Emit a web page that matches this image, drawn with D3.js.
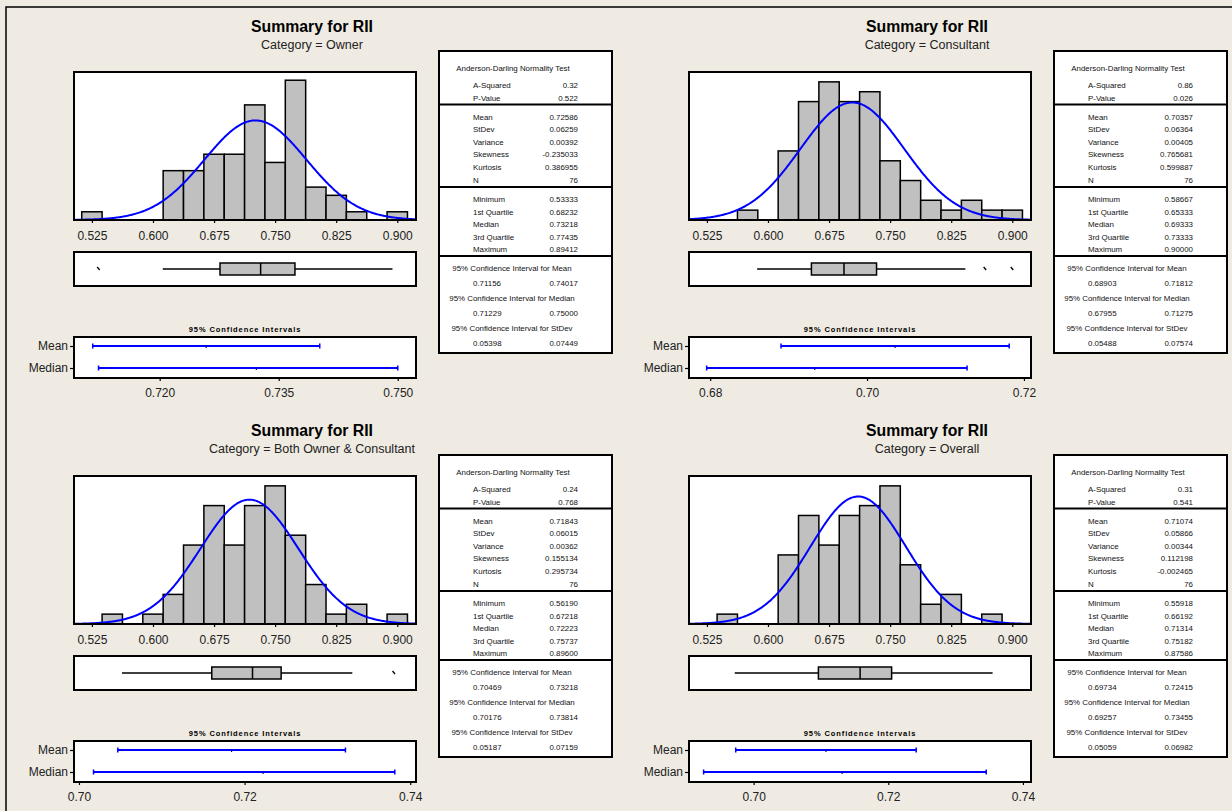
<!DOCTYPE html>
<html>
<head>
<meta charset="utf-8">
<script src="https://cdn.jsdelivr.net/npm/d3@7"></script>
<style>
  body { margin: 0; background: #efebe2; }
  svg { display: block; font-family: "Liberation Sans", Arial, sans-serif; }
</style>
</head>
<body>
<svg id="chart" width="1232" height="811"></svg>
<script>
const categories = ['Owner', 'Consultant', 'Both Owner & Consultant', 'Overall'];

const binWidth = 0.025;
const binMids = [0.525, 0.55, 0.575, 0.6, 0.625, 0.65, 0.675, 0.7, 0.725, 0.75, 0.775, 0.8, 0.825, 0.85, 0.875, 0.9];
const countsOwner      = [1, 0, 0, 0, 6, 6, 8, 8, 14, 7, 17, 4, 3, 1, 0, 1];
const countsConsultant = [0, 0, 1, 0, 7, 12, 14, 12, 13, 6, 4, 2, 1, 2, 1, 1];
const countsBoth       = [0, 1, 0, 1, 3, 8, 12, 8, 12, 14, 9, 4, 1, 2, 0, 1];
const countsOverall    = [0, 1, 0, 0, 7, 11, 8, 11, 12, 14, 6, 2, 3, 0, 1, 0];
const binCounts = [countsOwner, countsConsultant, countsBoth, countsOverall];

const histDomain = [0.503, 0.923];
const histTicks = [0.525, 0.600, 0.675, 0.750, 0.825, 0.900];

const aSquared  = ['0.32', '0.86', '0.24', '0.31'];
const pValue    = ['0.522', '0.026', '0.768', '0.541'];
const means     = [0.72586, 0.70357, 0.71843, 0.71074];
const stdevs    = [0.06259, 0.06364, 0.06015, 0.05866];
const variances = ['0.00392', '0.00405', '0.00362', '0.00344'];
const skewness  = ['-0.235033', '0.765681', '0.155134', '0.112198'];
const kurtosis  = ['0.386955', '0.599887', '0.295734', '-0.002465'];
const nObs      = [76, 76, 76, 76];
const minimum   = [0.53333, 0.58667, 0.56190, 0.55918];
const q1        = [0.68232, 0.65333, 0.67218, 0.66192];
const medians   = [0.73218, 0.69333, 0.72223, 0.71314];
const q3        = [0.77435, 0.73333, 0.75737, 0.75182];
const maximum   = [0.89412, 0.90000, 0.89600, 0.87586];

const whiskerLow  = [0.612, 0.58667, 0.56190, 0.55918];
const whiskerHigh = [0.89412, 0.8424, 0.8448, 0.87586];
const outliers    = [[0.53333], [0.8667, 0.9], [0.896], []];

const ciMean   = [[0.71156, 0.74017], [0.68903, 0.71812], [0.70469, 0.73218], [0.69734, 0.72415]];
const ciMedian = [[0.71229, 0.75000], [0.67955, 0.71275], [0.70176, 0.73814], [0.69257, 0.73455]];
const ciStdev  = [[0.05398, 0.07449], [0.05488, 0.07574], [0.05187, 0.07159], [0.05059, 0.06982]];

const ciDomains = [[0.7092, 0.7523], [0.6773, 0.7209], [0.6994, 0.7407], [0.6904, 0.7412]];
const ciTicks = [[0.720, 0.735, 0.750], [0.68, 0.70, 0.72], [0.70, 0.72, 0.74], [0.70, 0.72, 0.74]];
const ciTickFormats = ['.3f', '.2f', '.2f', '.2f'];

// ---- layout ----
const origins = [[0, 0], [615, 0], [0, 404], [615, 404]];
const hist = { x0: 74, x1: 416, y0: 72, y1: 220 };
const boxRow = { y0: 252, y1: 286 };
const ciRow = { y0: 337, y1: 378 };
const table = { x0: 439, x1: 612, y0: 51, y1: 353, lab: 473, val: 578, mid: 512 };

const svg = d3.select('#chart');
svg.append('rect').attr('width', 1232).attr('height', 811).attr('fill', '#efebe2');
svg.append('path')
  .attr('d', 'M6,811V7H1232')
  .attr('fill', 'none')
  .attr('stroke', '#000')
  .attr('stroke-width', 1.5);

const f5 = d3.format('.5f');

categories.forEach((cat, i) => drawPanel(i));

function styleAxis(g, size){
  g.attr('font-family', null).attr('font-size', size);
  g.select('.domain').remove();
  g.selectAll('.tick line').attr('stroke', '#000').attr('stroke-width', 1.2);
  g.selectAll('.tick text').attr('fill', '#222');
}

function drawPanel(i){
  const [ox, oy] = origins[i];
  const g = svg.append('g').attr('transform', `translate(${ox},${oy})`);

  g.append('text')
    .attr('x', 312).attr('y', 32)
    .attr('text-anchor', 'middle')
    .attr('font-size', 15.8).attr('font-weight', 'bold')
    .text('Summary for RII');
  g.append('text')
    .attr('x', 312).attr('y', 48.5)
    .attr('text-anchor', 'middle')
    .attr('font-size', 12.5).attr('fill', '#222')
    .text('Category = ' + categories[i]);

  // histogram
  const x = d3.scaleLinear().domain(histDomain).range([hist.x0, hist.x1]);
  const counts = binCounts[i];
  const y = d3.scaleLinear().domain([0, d3.max(counts) + 1]).range([hist.y1, hist.y0]);

  g.append('rect')
    .attr('x', hist.x0).attr('y', hist.y0)
    .attr('width', hist.x1 - hist.x0).attr('height', hist.y1 - hist.y0)
    .attr('fill', '#fff');

  const bins = binMids.map((m, j) => ({ mid: m, count: counts[j] })).filter(d => d.count > 0);
  g.selectAll('.bar')
    .data(bins)
    .join('rect')
    .attr('class', 'bar')
    .attr('x', d => x(d.mid - binWidth / 2))
    .attr('width', d => x(d.mid + binWidth / 2) - x(d.mid - binWidth / 2))
    .attr('y', d => y(d.count))
    .attr('height', d => y(0) - y(d.count))
    .attr('fill', '#c0c0c0')
    .attr('stroke', '#000')
    .attr('stroke-width', 1.5);

  // fitted normal curve from the mean and stdev in the table
  const scale = nObs[i] * binWidth;
  const pdf = v => Math.exp(-0.5 * ((v - means[i]) / stdevs[i]) ** 2) / (stdevs[i] * Math.sqrt(2 * Math.PI));
  const xs = d3.range(histDomain[0], histDomain[1] + 0.0005, 0.001);
  g.append('path')
    .datum(xs)
    .attr('d', d3.line().x(v => x(v)).y(v => y(scale * pdf(v))))
    .attr('fill', 'none')
    .attr('stroke', '#0000ff')
    .attr('stroke-width', 2);

  g.append('rect')
    .attr('x', hist.x0).attr('y', hist.y0)
    .attr('width', hist.x1 - hist.x0).attr('height', hist.y1 - hist.y0)
    .attr('fill', 'none').attr('stroke', '#000').attr('stroke-width', 2);

  g.append('g')
    .attr('transform', `translate(0,${hist.y1})`)
    .call(d3.axisBottom(x).tickValues(histTicks).tickFormat(d3.format('.3f')).tickSize(3).tickPadding(8))
    .call(a => styleAxis(a, 12));

  // boxplot
  const by = (boxRow.y0 + boxRow.y1) / 2;
  g.append('rect')
    .attr('x', hist.x0).attr('y', boxRow.y0)
    .attr('width', hist.x1 - hist.x0).attr('height', boxRow.y1 - boxRow.y0)
    .attr('fill', '#fff').attr('stroke', '#000').attr('stroke-width', 2);
  g.append('line')
    .attr('x1', x(whiskerLow[i])).attr('x2', x(whiskerHigh[i]))
    .attr('y1', by).attr('y2', by)
    .attr('stroke', '#000').attr('stroke-width', 1.3);
  g.append('rect')
    .attr('x', x(q1[i])).attr('y', by - 6)
    .attr('width', x(q3[i]) - x(q1[i])).attr('height', 12)
    .attr('fill', '#c0c0c0').attr('stroke', '#000').attr('stroke-width', 1.5);
  g.append('line')
    .attr('x1', x(medians[i])).attr('x2', x(medians[i]))
    .attr('y1', by - 6).attr('y2', by + 6)
    .attr('stroke', '#000').attr('stroke-width', 1.5);
  g.selectAll('.outlier')
    .data(outliers[i])
    .join('line')
    .attr('class', 'outlier')
    .attr('x1', d => x(d) - 1.5).attr('x2', d => x(d) + 1)
    .attr('y1', by - 2).attr('y2', by + 1)
    .attr('stroke', '#000').attr('stroke-width', 1.3);

  // confidence intervals
  g.append('text')
    .attr('x', 245).attr('y', 331.5)
    .attr('text-anchor', 'middle')
    .attr('font-size', 7.5).attr('font-weight', 'bold')
    .attr('letter-spacing', 0.9)
    .text('95% Confidence Intervals');

  const cx = d3.scaleLinear().domain(ciDomains[i]).range([hist.x0, hist.x1]);
  const rows = d3.scalePoint().domain(['Mean', 'Median']).range([346, 368]);
  g.append('rect')
    .attr('x', hist.x0).attr('y', ciRow.y0)
    .attr('width', hist.x1 - hist.x0).attr('height', ciRow.y1 - ciRow.y0)
    .attr('fill', '#fff').attr('stroke', '#000').attr('stroke-width', 2);

  const ciData = [
    { row: 'Mean', lo: ciMean[i][0], hi: ciMean[i][1], est: means[i] },
    { row: 'Median', lo: ciMedian[i][0], hi: ciMedian[i][1], est: medians[i] }
  ];
  const ci = g.selectAll('.ci').data(ciData).join('g').attr('class', 'ci');
  ci.append('line')
    .attr('x1', d => cx(d.lo)).attr('x2', d => cx(d.hi))
    .attr('y1', d => rows(d.row)).attr('y2', d => rows(d.row))
    .attr('stroke', '#0000ff').attr('stroke-width', 2);
  ci.append('path')
    .attr('d', d => `M${cx(d.lo)},${rows(d.row) - 2.5}v5M${cx(d.hi)},${rows(d.row) - 2.5}v5`)
    .attr('stroke', '#0000ff').attr('stroke-width', 1.5);
  ci.append('line')
    .attr('x1', d => cx(d.est)).attr('x2', d => cx(d.est))
    .attr('y1', d => rows(d.row) - 1).attr('y2', d => rows(d.row) + 2)
    .attr('stroke', '#0000aa').attr('stroke-width', 1.2);

  g.append('g')
    .attr('transform', `translate(${hist.x0},0)`)
    .call(d3.axisLeft(rows).tickSize(4).tickPadding(2))
    .call(a => styleAxis(a, 12));

  g.append('g')
    .attr('transform', `translate(0,${ciRow.y1})`)
    .call(d3.axisBottom(cx).tickValues(ciTicks[i]).tickFormat(d3.format(ciTickFormats[i])).tickSize(3).tickPadding(7))
    .call(a => styleAxis(a, 12));

  drawTable(g, i);
}

function drawTable(g, i){
  g.append('rect')
    .attr('x', table.x0).attr('y', table.y0)
    .attr('width', table.x1 - table.x0).attr('height', table.y1 - table.y0)
    .attr('fill', '#fff').attr('stroke', '#000').attr('stroke-width', 2);
  [104.5, 187, 256].forEach(yy => {
    g.append('line')
      .attr('x1', table.x0).attr('x2', table.x1)
      .attr('y1', yy).attr('y2', yy)
      .attr('stroke', '#000').attr('stroke-width', 2);
  });

  const t = g.append('g').attr('font-size', 7.9).attr('fill', '#111');
  const centred = [
    ['Anderson-Darling Normality Test', 68, 513],
    ['95% Confidence Interval for Mean', 268, table.mid],
    ['95% Confidence Interval for Median', 298, table.mid],
    ['95% Confidence Interval for StDev', 328, table.mid]
  ];
  centred.forEach(([s, yy, xx]) => {
    t.append('text').attr('x', xx).attr('y', yy + 2.8).attr('text-anchor', 'middle').text(s);
  });

  const pairs = [
    ['A-Squared', aSquared[i], 85],
    ['P-Value', pValue[i], 98],
    ['Mean', f5(means[i]), 117],
    ['StDev', f5(stdevs[i]), 129.5],
    ['Variance', variances[i], 142],
    ['Skewness', skewness[i], 154.5],
    ['Kurtosis', kurtosis[i], 167],
    ['N', nObs[i], 180],
    ['Minimum', f5(minimum[i]), 199],
    ['1st Quartile', f5(q1[i]), 212],
    ['Median', f5(medians[i]), 224.5],
    ['3rd Quartile', f5(q3[i]), 237],
    ['Maximum', f5(maximum[i]), 249],
    [f5(ciMean[i][0]), f5(ciMean[i][1]), 283],
    [f5(ciMedian[i][0]), f5(ciMedian[i][1]), 313],
    [f5(ciStdev[i][0]), f5(ciStdev[i][1]), 343]
  ];
  pairs.forEach(([a, b, yy]) => {
    t.append('text').attr('x', table.lab).attr('y', yy + 2.8).text(a);
    t.append('text').attr('x', table.val).attr('y', yy + 2.8).attr('text-anchor', 'end').text(b);
  });
}
</script>
</body>
</html>
